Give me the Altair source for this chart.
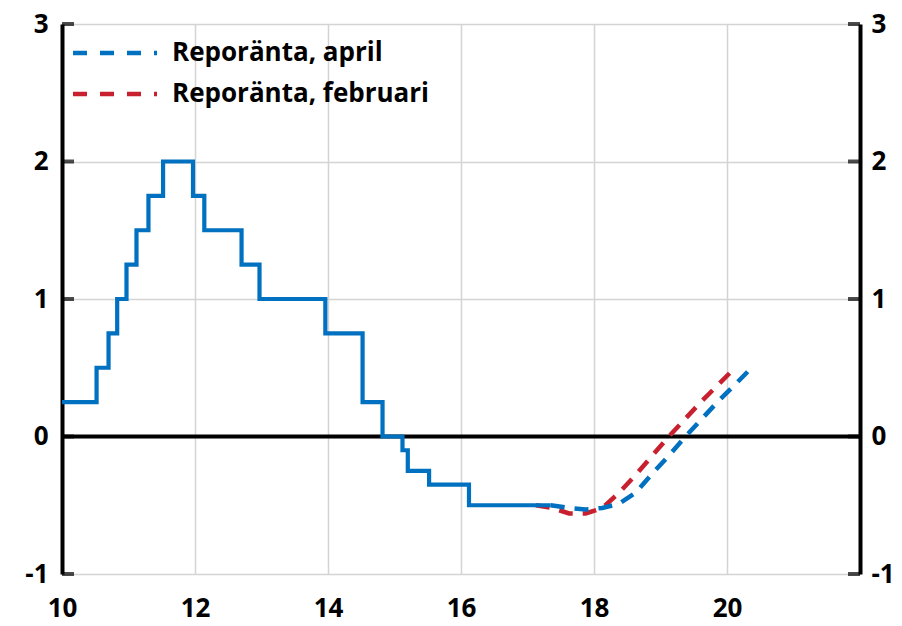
import altair as alt
import pandas as pd

# Historical repo rate (step changes), x = year - 2000
hist_x = [10.0, 10.52, 10.70, 10.83, 10.97, 11.12, 11.30, 11.52, 11.97, 12.14, 12.70,
          12.97, 13.96, 14.52, 14.82, 15.12, 15.20, 15.52, 16.12, 17.35]
hist_y = [0.25, 0.50, 0.75, 1.00, 1.25, 1.50, 1.75, 2.00, 1.75, 1.50, 1.25,
          1.00, 0.75, 0.25, 0.00, -0.10, -0.25, -0.35, -0.50, -0.50]

# Forecast, April
apr_x = [17.35, 17.625, 17.875, 18.125, 18.375, 18.625, 18.875, 19.125, 19.375,
         19.625, 19.875, 20.125, 20.35]
apr_y = [-0.50, -0.52, -0.53, -0.52, -0.49, -0.41, -0.27, -0.14, 0.00,
         0.13, 0.26, 0.38, 0.49]

# Forecast, February
feb_x = [17.125, 17.375, 17.625, 17.875, 18.125, 18.375, 18.625, 18.875, 19.125,
         19.375, 19.625, 19.875, 20.1]
feb_y = [-0.50, -0.52, -0.56, -0.56, -0.52, -0.41, -0.28, -0.14, 0.00,
         0.13, 0.26, 0.38, 0.49]

x_ticks = [10, 12, 14, 16, 18, 20]
y_ticks = [-1, 0, 1, 2, 3]
legend_labels = ["Reporänta, april", "Reporänta, februari"]

BLUE = "#0070C0"
RED = "#C8202F"
FONT = "Open Sans"

hist = pd.DataFrame({"x": hist_x, "y": hist_y})
apr = pd.DataFrame({"x": apr_x, "y": apr_y})
feb = pd.DataFrame({"x": feb_x, "y": feb_y})
yt = pd.DataFrame({"y": y_ticks})

xs = alt.Scale(domain=[10, 22], nice=False, zero=False)
ys = alt.Scale(domain=[-1, 3], nice=False, zero=False)

x_axis = alt.Axis(values=x_ticks, grid=True, gridColor="#d4d4d4", gridWidth=1.5,
                  domain=False, ticks=False, labelFontSize=26, labelFont=FONT,
                  labelFontWeight="bold", labelColor="black", labelPadding=21,
                  labelFlush=False, labelExpr="'' + datum.value", title=None)

def yaxis(orient, grid, pad):
    return alt.Axis(orient=orient, values=y_ticks, grid=grid, gridColor="#d4d4d4", gridWidth=1.5,
                    domain=True, domainColor="black", domainWidth=4, ticks=False,
                    labelFontSize=26, labelFont=FONT, labelFontWeight="bold",
                    labelColor="black", labelPadding=pad, labelFlush=False,
                    labelExpr="'' + datum.value", title=None)

X = alt.X("x:Q", scale=xs, axis=x_axis)

zero = alt.Chart(pd.DataFrame({"y": [0]})).mark_rule(color="black", strokeWidth=4).encode(
    y=alt.Y("y:Q", scale=ys, axis=yaxis("left", True, 14)))

left_ticks = alt.Chart(yt).mark_tick(orient="horizontal", size=12, thickness=4,
                                     color="black", xOffset=6).encode(
    x=alt.datum(10, scale=xs), y=alt.Y("y:Q", scale=ys))

feb_line = alt.Chart(feb).mark_line(color=RED, strokeWidth=4.5, strokeDash=[14, 10]).encode(
    x=X, y=alt.Y("y:Q", scale=ys))
apr_line = alt.Chart(apr).mark_line(color=BLUE, strokeWidth=4.5, strokeDash=[14, 10]).encode(
    x=X, y=alt.Y("y:Q", scale=ys))
hist_line = alt.Chart(hist).mark_line(color=BLUE, strokeWidth=4.2, interpolate="step-after").encode(
    x=X, y=alt.Y("y:Q", scale=ys))

# legend
leg = []
for i, (lab, col) in enumerate(zip(legend_labels, [BLUE, RED])):
    yy = 29 + 41 * i
    leg.append(alt.Chart(pd.DataFrame({"l": [lab]})).mark_rule(
        color=col, strokeWidth=4.5, strokeDash=[14, 13]).encode(
        x=alt.value(11), x2=alt.value(95), y=alt.value(yy)))
    leg.append(alt.Chart(pd.DataFrame({"l": [lab]})).mark_text(
        align="left", baseline="middle", font=FONT, fontWeight="bold", fontSize=26,
        color="black").encode(x=alt.value(110), y=alt.value(yy), text="l:N"))

left = alt.layer(zero, feb_line, apr_line, hist_line, left_ticks, *leg)

right = alt.Chart(yt).mark_tick(orient="horizontal", size=12, thickness=4,
                                color="black", xOffset=-6).encode(
    x=alt.datum(22, scale=xs),
    y=alt.Y("y:Q", scale=ys, axis=yaxis("right", False, 11)))

chart = alt.layer(left, right).resolve_scale(y="independent").properties(
    width=798, height=550,
    autosize=alt.AutoSizeParams(type="none"),
    padding={"left": 54, "top": 16, "right": 34, "bottom": 44},
).configure_view(stroke=None)

chart.save("out.html", embed_options={"renderer": "svg", "actions": False})
